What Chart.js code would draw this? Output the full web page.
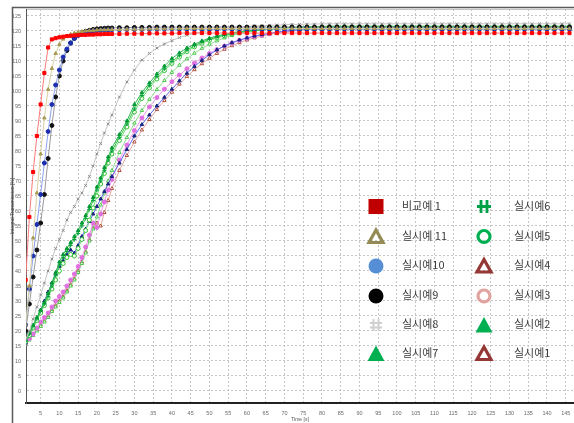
<!DOCTYPE html>
<html>
<head>
<meta charset="utf-8">
<script src="https://cdn.jsdelivr.net/npm/chart.js@4.4.1/dist/chart.umd.min.js"></script>
<style>
html, body { margin: 0; padding: 0; background: #fff; }
#wrap { width: 574px; height: 423px; }
</style>
</head>
<body>
<div id="wrap"><canvas id="chart" width="574" height="423"></canvas></div>
<script>
// time [s]
const times = [1,2,3,4,5,6,7,8,9,10,11,12,13,14,15,16,17,18,19,20,21,22,23,24,
  26,28,30,32,34,36,38,40,42,44,
  46,48,50,52,54,56,58,60,62,64,
  66,68,70,72,74,76,78,80,82,84,
  86,88,90,92,94,96,98,100,102,104,
  106,108,110,112,114,116,118,120,122,124,
  126,128,130,132,134,136,138,140,142,144,
  146]
const xTicks = [5,10,15,20,25,30,35,40,45,50,55,60,65,70,75,80,85,90,95,100,105,110,115,120,125,130,135,140,145]
const yTicks = [0,5,10,15,20,25,30,35,40,45,50,55,60,65,70,75,80,85,90,95,100,105,110,115,120,125]
const names = ["비교예 1", "실시예 11", "실시예10", "실시예9", "실시예8", "실시예7",
               "실시예6", "실시예5", "실시예4", "실시예3", "실시예2", "실시예1"]

// integral transmission [%]
const comp1 = [37,58,73,85,95.5,106,114.5,117.2,117.6,117.9,118.1,118.3,118.4,118.5,118.6,118.7,118.7,118.8,118.8,118.9,118.9,119,119,119,
  119,119.1,119.1,119.1,119.2,119.2,119.2,119.2,119.3,119.3,
  119.3,119.3,119.3,119.3,119.3,119.3,119.3,119.3,119.3,119.3,
  119.3,119.3,119.3,119.3,119.3,119.3,119.3,119.3,119.3,119.3,
  119.3,119.3,119.3,119.3,119.3,119.3,119.3,119.3,119.3,119.3,
  119.3,119.3,119.3,119.3,119.3,119.3,119.3,119.3,119.3,119.3,
  119.3,119.3,119.3,119.3,119.3,119.3,119.3,119.3,119.3,119.3,
  119.3]
const ex11 = [22,35,51,66,79,91,100.5,107.5,112.5,115.5,117.3,118.3,118.9,119.3,119.6,119.8,120,120.1,120.2,120.3,120.4,120.4,120.5,120.5,
  120.5,120.6,120.6,120.6,120.7,120.7,120.7,120.7,120.8,120.8,
  120.8,120.8,120.8,120.8,120.8,120.8,120.8,120.8,120.8,120.8,
  120.8,120.8,120.8,120.8,120.8,120.8,120.8,120.8,120.8,120.8,
  120.8,120.8,120.8,120.8,120.8,120.8,120.8,120.8,120.8,120.8,
  120.8,120.8,120.8,120.8,120.8,120.8,120.8,120.8,120.8,120.8,
  120.8,120.8,120.8,120.8,120.8,120.8,120.8,120.8,120.8,120.8,
  120.8]
const ex10 = [22,34,45,55.5,65.5,76,86.5,95.5,102,107,111.3,114,116,117.5,118.5,119.1,119.5,119.8,120,120.1,120.2,120.3,120.3,120.4,
  120.4,120.5,120.5,120.5,120.6,120.6,120.6,120.6,120.6,120.6,
  120.6,120.6,120.6,120.6,120.6,120.6,120.6,120.6,120.6,120.6,
  120.6,120.6,120.6,120.6,120.6,120.6,120.6,120.6,120.6,120.6,
  120.6,120.6,120.6,120.6,120.6,120.6,120.6,120.6,120.6,120.6,
  120.6,120.6,120.6,120.6,120.6,120.6,120.6,120.6,120.6,120.6,
  120.6,120.6,120.6,120.6,120.6,120.6,120.6,120.6,120.6,120.6,
  120.6]
const ex9 = [20,29,38,47,56,65.5,77.5,88.5,98,105,110,113.5,116,117.6,118.7,119.4,119.9,120.2,120.5,120.7,120.8,120.9,121,121,
  121.1,121.1,121.2,121.2,121.2,121.3,121.3,121.3,121.3,121.3,
  121.3,121.3,121.3,121.3,121.3,121.3,121.3,121.3,121.3,121.3,
  121.3,121.3,121.3,121.3,121.3,121.3,121.3,121.3,121.3,121.3,
  121.3,121.3,121.3,121.3,121.3,121.3,121.3,121.3,121.3,121.3,
  121.3,121.3,121.3,121.3,121.3,121.3,121.3,121.3,121.3,121.3,
  121.3,121.3,121.3,121.3,121.3,121.3,121.3,121.3,121.3,121.3,
  121.3]
const ex8 = [17,20,24,28,32,36,40,44,47.5,50.5,53.5,57,59.5,61.5,64,66,68.5,71.5,75,79,82.5,86,89,92,
  98,103,107,110.3,112.5,114.3,115.7,116.8,117.8,118.6,
  119.2,119.7,120.1,120.5,120.8,121.1,121.3,121.5,121.7,121.8,
  121.9,122,122.1,122.2,122.2,122.3,122.3,122.4,122.4,122.4,
  122.4,122.4,122.4,122.4,122.4,122.4,122.4,122.4,122.4,122.4,
  122.4,122.4,122.4,122.4,122.4,122.4,122.4,122.4,122.4,122.4,
  122.4,122.4,122.4,122.4,122.4,122.4,122.4,122.4,122.4,122.4,
  122.4]
const ex7 = [17,19.5,22,24.5,27,29.5,32.5,36,39.5,43,45.5,47.5,49.5,51.5,53.5,56,58.5,61.5,64.5,68,71,74.5,78,81,
  85.5,90,95.5,99.5,102.7,105.7,108.3,110.8,112.7,114.3,
  115.6,116.7,117.6,118.3,118.9,119.4,119.8,120.1,120.4,120.6,
  120.8,121,121.1,121.2,121.3,121.4,121.5,121.5,121.6,121.6,
  121.6,121.6,121.6,121.6,121.6,121.6,121.6,121.6,121.6,121.6,
  121.6,121.6,121.6,121.6,121.6,121.6,121.6,121.6,121.6,121.6,
  121.6,121.6,121.6,121.6,121.6,121.6,121.6,121.6,121.6,121.6,
  121.6]
const ex6 = [16.5,19,21.5,24,26.5,29,31.5,35,38.5,42,44.5,46.5,48.5,50.5,52.5,55,57.5,60.5,63.5,67,70,73.5,77,80,
  84.5,89,94,98.5,101.8,104.8,107.4,109.8,111.8,113.6,
  115.1,116.3,117.2,118,118.6,119.1,119.5,119.9,120.2,120.4,
  120.6,120.8,120.9,121,121.1,121.2,121.3,121.3,121.4,121.4,
  121.4,121.4,121.4,121.4,121.4,121.4,121.4,121.4,121.4,121.4,
  121.4,121.4,121.4,121.4,121.4,121.4,121.4,121.4,121.4,121.4,
  121.4,121.4,121.4,121.4,121.4,121.4,121.4,121.4,121.4,121.4,
  121.4]
const ex5 = [16.5,18.5,21,23.5,26,28.5,31,34,37,40,42.5,44.5,45.5,45,47.5,50.5,53.5,57,61,65,69,72.5,76,79,
  83.5,88,93,97.5,101,104,106.8,109.2,111.3,113.1,
  114.7,115.9,116.9,117.7,118.4,118.9,119.4,119.8,120.1,120.4,
  120.6,120.8,120.9,121,121.1,121.2,121.2,121.3,121.3,121.3,
  121.3,121.3,121.3,121.3,121.3,121.3,121.3,121.3,121.3,121.3,
  121.3,121.3,121.3,121.3,121.3,121.3,121.3,121.3,121.3,121.3,
  121.3,121.3,121.3,121.3,121.3,121.3,121.3,121.3,121.3,121.3,
  121.3]
const ex4 = [16,18.5,21,24,27,30,33,36,39,41.5,43.5,45.5,47,46,48.5,51.5,54,56.5,59,61.5,64,66.5,69,71.5,
  76,80.5,85,88.8,92,95,97.9,100.6,103.4,105.9,
  108.2,110.2,112.1,113.7,115,116.1,117,117.7,118.3,118.8,
  119.2,119.6,119.9,120.2,120.4,120.6,120.8,120.9,121,121,
  121,121,121,121,121,121,121,121,121,121,
  121,121,121,121,121,121,121,121,121,121,
  121,121,121,121,121,121,121,121,121,121,
  121]
const ex3 = [16,17.5,19,21,23,24.5,26,28,30,31.5,33,35,37,39,41.5,44.5,48,52,56,54.5,59,63,67,70.5,
  77,82,86.8,91,94.7,97.8,100.6,103.1,105.3,107.4,
  109.3,111,112.5,113.8,115,116,116.9,117.6,118.2,118.7,
  119.1,119.5,119.9,120.2,120.4,120.6,120.7,120.8,120.9,120.9,
  120.9,120.9,120.9,120.9,120.9,120.9,120.9,120.9,120.9,120.9,
  120.9,120.9,120.9,120.9,120.9,120.9,120.9,120.9,120.9,120.9,
  120.9,120.9,120.9,120.9,120.9,120.9,120.9,120.9,120.9,120.9,
  120.9]
const ex2 = [15.5,17,18.5,20,21.5,23,24.5,26.5,28,29.5,31,33,35,37,39.5,42.5,46,50,54,58,62,66,70,73.5,
  79.5,84.5,89.3,93.5,97.2,100.5,103.5,106.2,108.6,110.7,
  112.6,114.2,115.6,116.7,117.7,118.5,119.1,119.6,120,120.3,
  120.6,120.8,121,121.1,121.2,121.3,121.3,121.4,121.4,121.4,
  121.4,121.4,121.4,121.4,121.4,121.4,121.4,121.4,121.4,121.4,
  121.4,121.4,121.4,121.4,121.4,121.4,121.4,121.4,121.4,121.4,
  121.4,121.4,121.4,121.4,121.4,121.4,121.4,121.4,121.4,121.4,
  121.4]
const ex1 = [16,17.5,19,20.5,22,23.5,25,27,28.5,30,31.5,33.5,35.5,37.5,40,43,46.5,50.5,54.5,56,55,59.5,63.5,67.5,
  73.5,78.5,83,87,90.5,93.8,96.8,99.6,102.3,104.8,
  107.1,109.1,110.9,112.5,113.9,115.1,116.1,117,117.7,118.3,
  118.8,119.2,119.6,119.9,120.2,120.4,120.5,120.6,120.7,120.7,
  120.7,120.7,120.7,120.7,120.7,120.7,120.7,120.7,120.7,120.7,
  120.7,120.7,120.7,120.7,120.7,120.7,120.7,120.7,120.7,120.7,
  120.7,120.7,120.7,120.7,120.7,120.7,120.7,120.7,120.7,120.7,
  120.7]

const series = [comp1, ex11, ex10, ex9, ex8, ex7, ex6, ex5, ex4, ex3, ex2, ex1]

// line colour, marker colour, marker style, filled marker
const looks = [
  ["#ff7a7a", "#ff0000", "rect", true],
  ["#d9d0a0", "#a89a50", "triangle", true],
  ["#8aa2f2", "#1c2fb0", "circle", true],
  ["#9a9a9a", "#111111", "circle", true],
  ["#c4c4c4", "#8c8c8c", "crossRot", true],
  ["#2ab54e", "#009933", "triangle", true],
  ["#3cc450", "#00a040", "cross", true],
  ["#70dd70", "#2fc42f", "circle", false],
  ["#5a68e6", "#1a237e", "triangle", true],
  ["#f395f3", "#e070e0", "circle", true],
  ["#8ee08e", "#4cc84c", "triangle", false],
  ["#e6a6a6", "#b05040", "triangle", false]
]

// legend marker drawn in the box: kind, colour
const legendMarks = [
  ["square", "#c00000"], ["triOpen", "#948a54"], ["dot", "#558ed5"], ["dot", "#000000"],
  ["hash", "#d0d0d0"], ["triFill", "#00b050"],
  ["bars", "#00a047"], ["ring", "#00b050"], ["triOpen", "#953735"], ["ring", "#e0a3a1"],
  ["triFill", "#00b050"], ["triOpen", "#953735"]
]

function drawMark(ctx, kind, color, x, y) {
  ctx.save()
  ctx.fillStyle = color
  ctx.strokeStyle = color
  ctx.lineJoin = "miter"
  ctx.beginPath()
  if (kind == "square") {
    ctx.fillRect(x - 7.5, y - 7.5, 15, 15)
  } else if (kind == "dot") {
    ctx.arc(x, y, 7.5, 0, Math.PI * 2)
    ctx.fill()
  } else if (kind == "ring") {
    ctx.lineWidth = 3.2
    ctx.arc(x, y, 6, 0, Math.PI * 2)
    ctx.stroke()
  } else if (kind == "triOpen") {
    ctx.lineWidth = 3.2
    ctx.moveTo(x, y - 6.5); ctx.lineTo(x + 7, y + 6); ctx.lineTo(x - 7, y + 6); ctx.closePath()
    ctx.stroke()
  } else if (kind == "triFill") {
    ctx.moveTo(x, y - 8); ctx.lineTo(x + 8.5, y + 7.5); ctx.lineTo(x - 8.5, y + 7.5); ctx.closePath()
    ctx.fill()
  } else if (kind == "hash") {
    ctx.lineWidth = 2
    ctx.moveTo(x - 2.5, y - 6); ctx.lineTo(x - 2.5, y + 6)
    ctx.moveTo(x + 2.5, y - 6); ctx.lineTo(x + 2.5, y + 6)
    ctx.moveTo(x - 6, y - 2); ctx.lineTo(x + 6, y - 2)
    ctx.moveTo(x - 6, y + 2.5); ctx.lineTo(x + 6, y + 2.5)
    ctx.stroke()
  } else if (kind == "bars") {
    ctx.lineWidth = 2.8
    ctx.moveTo(x - 3, y - 6.5); ctx.lineTo(x - 3, y + 6.5)
    ctx.moveTo(x + 3, y - 6.5); ctx.lineTo(x + 3, y + 6.5)
    ctx.moveTo(x - 7, y); ctx.lineTo(x + 7, y)
    ctx.stroke()
  }
  ctx.restore()
}

const legendRows = [206.5, 236.5, 266, 296, 325, 353.5]
const boxLegend = {
  id: "boxLegend",
  afterDraw(chart) {
    const ctx = chart.ctx
    ctx.save()
    ctx.font = '11px "Noto Sans CJK KR"'
    ctx.textBaseline = "middle"
    chart.data.datasets.forEach((ds, k) => {
      const col = k < 6 ? 0 : 1
      const y = legendRows[k % 6]
      drawMark(ctx, legendMarks[k][0], legendMarks[k][1], col ? 484 : 376, y)
      ctx.fillStyle = "#3c3c3c"
      ctx.fillText(ds.label, col ? 514 : 402, y - 1)
    })
    ctx.restore()
  }
}

const frame = {
  id: "frame",
  beforeDraw(chart) {
    const ctx = chart.ctx
    ctx.save()
    ctx.fillStyle = "#fff"
    ctx.fillRect(0, 0, chart.width, chart.height)
    ctx.strokeStyle = "#5a5a5a"
    ctx.lineWidth = 1.5
    ctx.beginPath()
    ctx.moveTo(12.5, 423); ctx.lineTo(12.5, 7.5); ctx.lineTo(574, 7.5)
    ctx.stroke()
    ctx.strokeStyle = "#c4c4c4"
    ctx.lineWidth = 1
    ctx.beginPath()
    ctx.moveTo(26, 9.5); ctx.lineTo(574, 9.5)
    ctx.stroke()
    ctx.restore()
  }
}

const datasets = series.map((vals, i) => ({
  label: names[i],
  data: times.map((t, j) => ({x: t, y: vals[j]})),
  borderColor: looks[i][0],
  borderWidth: 1,
  pointStyle: looks[i][2],
  pointRadius: looks[i][2] == "rect" ? 2.2 : 2,
  pointBorderWidth: 1,
  pointBorderColor: looks[i][1],
  pointBackgroundColor: looks[i][3] ? looks[i][1] : "#ffffff",
  tension: 0
}))

const tickFont = {family: "'Liberation Sans', sans-serif", size: 5.5}

new Chart(document.getElementById("chart"), {
  type: "line",
  data: {datasets: datasets},
  plugins: [frame, boxLegend],
  options: {
    responsive: false,
    devicePixelRatio: 1,
    animation: false,
    layout: {autoPadding: false, padding: {left: 10, top: 9, right: 0, bottom: 0}},
    plugins: {legend: {display: false}, tooltip: {enabled: false}},
    scales: {
      x: {
        type: "linear",
        min: 1.1,
        max: 147.2,
        afterBuildTicks: (scale) => { scale.ticks = xTicks.map(v => ({value: v})) },
        afterFit: (scale) => { scale.height = 20; scale.paddingLeft = 0; scale.paddingRight = 0 },
        grid: {color: "#c6c6c6", lineWidth: 1, drawTicks: false},
        border: {display: true, color: "#222", width: 2, dash: [2, 2]},
        ticks: {font: tickFont, color: "#6a6a6a", padding: 7, maxRotation: 0, autoSkip: false},
        title: {display: true, text: "Time [s]", font: {family: "'Liberation Sans', sans-serif", size: 5}, color: "#555", padding: 0}
      },
      y: {
        min: -4,
        max: 127.33,
        afterBuildTicks: (scale) => { scale.ticks = yTicks.map(v => ({value: v})) },
        afterFit: (scale) => { scale.width = 16; scale.paddingTop = 0; scale.paddingBottom = 0 },
        grid: {color: "#c6c6c6", lineWidth: 1, drawTicks: false},
        border: {display: true, color: "#555", width: 1, dash: [2, 2]},
        ticks: {font: tickFont, color: "#6a6a6a", padding: 5, autoSkip: false},
        title: {display: true, text: "Integral Transmission [%]", font: {family: "'Liberation Sans', sans-serif", size: 5}, color: "#555", padding: 0}
      }
    }
  }
})
</script>
</body>
</html>
